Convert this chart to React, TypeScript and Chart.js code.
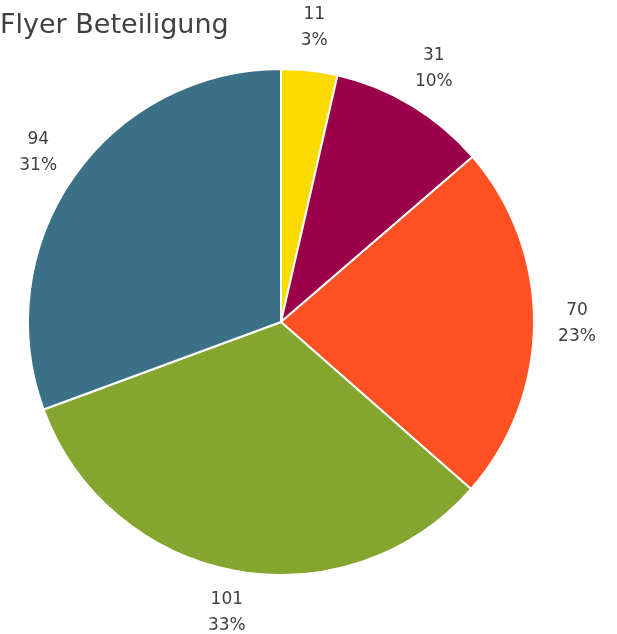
import React, { useEffect, useRef } from "react";
import { Chart, registerables } from "chart.js";

Chart.register(...registerables);

const title = "Flyer Beteiligung";
const categories = ["A", "B", "C", "D", "E"];
const values = [11, 31, 70, 101, 94];
const percentLabels = ["3%", "10%", "23%", "33%", "31%"];
const colors = ["#F9DB00", "#9B004B", "#FF5122", "#84A62E", "#3B7186"];

const FONT = "'DejaVu Sans', sans-serif";

const labelPlugin = {
  id: "outerLabels",
  afterDraw(chart: any) {
    const ctx = chart.ctx;
    const meta = chart.getDatasetMeta(0);
    ctx.save();
    ctx.fillStyle = "#404040";
    ctx.textAlign = "center";
    ctx.textBaseline = "middle";
    ctx.font = `17px ${FONT}`;
    meta.data.forEach((arc: any, i: number) => {
      const mid = (arc.startAngle + arc.endAngle) / 2;
      const r = arc.outerRadius + 43;
      const x = arc.x + Math.cos(mid) * r;
      const y = arc.y + Math.sin(mid) * r;
      ctx.fillText(String(values[i]), x, y - 13);
      ctx.fillText(percentLabels[i], x, y + 13);
    });
    ctx.font = `27px ${FONT}`;
    ctx.textAlign = "left";
    ctx.textBaseline = "alphabetic";
    ctx.fillText(title, 0, 33);
    ctx.restore();
  },
};

export default function App() {
  const ref = useRef<HTMLCanvasElement>(null);
  useEffect(() => {
    const chart = new Chart(ref.current!, {
      type: "pie",
      data: {
        labels: categories,
        datasets: [
          {
            data: values,
            backgroundColor: colors,
            borderColor: "#ffffff",
            borderWidth: 2,
          },
        ],
      },
      options: {
        responsive: false,
        animation: false,
        layout: { padding: { left: 27, right: 82, top: 68, bottom: 58 } },
        plugins: { legend: { display: false }, tooltip: { enabled: false }, title: { display: false } },
      },
      plugins: [labelPlugin],
    });
    return () => chart.destroy();
  }, []);
  return (
    <div style={{ position: "absolute", left: 0, top: 0, width: 617, height: 634, background: "#fff" }}>
      <canvas ref={ref} width={617} height={634} style={{ display: "block" }} />
    </div>
  );
}
